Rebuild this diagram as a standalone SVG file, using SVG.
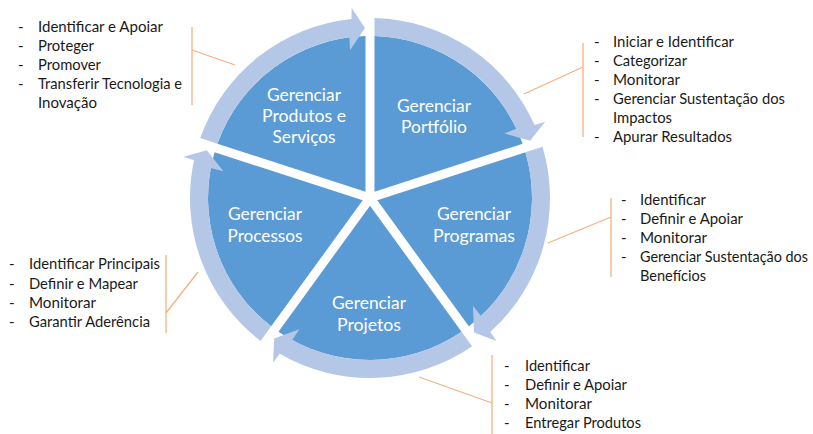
<svg xmlns="http://www.w3.org/2000/svg" width="813" height="434" viewBox="0 0 813 434">
  <style>
    .sector { fill: #5B9BD5; }
    .ring { fill: #B4C7E7; }
    .label { font-family: Lato, "Open Sans", "Liberation Sans", sans-serif; font-size: 17.5px; fill: #FFFFFF; text-anchor: middle; }
    .item { font-family: Lato, "Open Sans", "Liberation Sans", sans-serif; font-size: 15px; fill: #1A1A1A; }
    .callout { stroke: #F4B183; stroke-width: 1.3; fill: none; }
  </style>
  <rect x="0" y="0" width="813" height="434" fill="#FFFFFF"/>

  <g id="node-produtos-servicos">
    <path class="sector" d="M365.50,191.81 L217.38,143.68 A162,162 0 0 1 365.50,36.06 Z"/>
    <text class="label" x="304" y="101" textLength="74" lengthAdjust="spacingAndGlyphs">Gerenciar</text>
    <text class="label" x="304" y="122" textLength="84" lengthAdjust="spacingAndGlyphs">Produtos e</text>
    <text class="label" x="304" y="143" textLength="63" lengthAdjust="spacingAndGlyphs">Serviços</text>
  </g>
  <g id="node-portfolio">
    <path class="sector" d="M374.50,191.81 L374.50,36.06 A162,162 0 0 1 522.62,143.68 Z"/>
    <text class="label" x="434" y="112" textLength="74" lengthAdjust="spacingAndGlyphs">Gerenciar</text>
    <text class="label" x="434" y="133" textLength="66" lengthAdjust="spacingAndGlyphs">Portfólio</text>
  </g>
  <g id="node-programas">
    <path class="sector" d="M377.28,200.37 L525.41,152.24 A162,162 0 0 1 468.83,326.37 Z"/>
    <text class="label" x="474" y="220" textLength="74" lengthAdjust="spacingAndGlyphs">Gerenciar</text>
    <text class="label" x="474" y="242" textLength="82" lengthAdjust="spacingAndGlyphs">Programas</text>
  </g>
  <g id="node-projetos">
    <path class="sector" d="M370,205.66 L461.54,331.66 A162,162 0 0 1 278.46,331.66 Z"/>
    <text class="label" x="369" y="309" textLength="74" lengthAdjust="spacingAndGlyphs">Gerenciar</text>
    <text class="label" x="369" y="331" textLength="64" lengthAdjust="spacingAndGlyphs">Projetos</text>
  </g>
  <g id="node-processos">
    <path class="sector" d="M362.72,200.37 L271.17,326.37 A162,162 0 0 1 214.59,152.24 Z"/>
    <text class="label" x="265" y="220" textLength="74" lengthAdjust="spacingAndGlyphs">Gerenciar</text>
    <text class="label" x="265" y="242" textLength="75" lengthAdjust="spacingAndGlyphs">Processos</text>
  </g>

  <g id="list-produtos-servicos">
    <text class="item" x="18" y="32">-</text><text class="item" x="38" y="32" textLength="125" lengthAdjust="spacingAndGlyphs">Identificar e Apoiar</text>
    <text class="item" x="18" y="51">-</text><text class="item" x="38" y="51" textLength="56" lengthAdjust="spacingAndGlyphs">Proteger</text>
    <text class="item" x="18" y="70">-</text><text class="item" x="38" y="70" textLength="63" lengthAdjust="spacingAndGlyphs">Promover</text>
    <text class="item" x="18" y="89">-</text><text class="item" x="38" y="89" textLength="144" lengthAdjust="spacingAndGlyphs">Transferir Tecnologia e</text>
    <text class="item" x="38" y="108" textLength="59" lengthAdjust="spacingAndGlyphs">Inovação</text>
  </g>
  <g id="list-portfolio">
    <text class="item" x="594" y="47">-</text><text class="item" x="613" y="47" textLength="121" lengthAdjust="spacingAndGlyphs">Iniciar e Identificar</text>
    <text class="item" x="594" y="66">-</text><text class="item" x="613" y="66" textLength="74" lengthAdjust="spacingAndGlyphs">Categorizar</text>
    <text class="item" x="594" y="85">-</text><text class="item" x="613" y="85" textLength="67" lengthAdjust="spacingAndGlyphs">Monitorar</text>
    <text class="item" x="594" y="104">-</text><text class="item" x="613" y="104" textLength="172" lengthAdjust="spacingAndGlyphs">Gerenciar Sustentação dos</text>
    <text class="item" x="613" y="123" textLength="59" lengthAdjust="spacingAndGlyphs">Impactos</text>
    <text class="item" x="594" y="142">-</text><text class="item" x="613" y="142" textLength="119" lengthAdjust="spacingAndGlyphs">Apurar Resultados</text>
  </g>
  <g id="list-programas">
    <text class="item" x="621" y="205">-</text><text class="item" x="640" y="205" textLength="66" lengthAdjust="spacingAndGlyphs">Identificar</text>
    <text class="item" x="621" y="224">-</text><text class="item" x="640" y="224" textLength="103" lengthAdjust="spacingAndGlyphs">Definir e Apoiar</text>
    <text class="item" x="621" y="243">-</text><text class="item" x="640" y="243" textLength="67" lengthAdjust="spacingAndGlyphs">Monitorar</text>
    <text class="item" x="621" y="262">-</text><text class="item" x="640" y="262" textLength="168" lengthAdjust="spacingAndGlyphs">Gerenciar Sustentação dos</text>
    <text class="item" x="640" y="281" textLength="66" lengthAdjust="spacingAndGlyphs">Benefícios</text>
  </g>
  <g id="list-processos">
    <text class="item" x="9" y="269">-</text><text class="item" x="29" y="269" textLength="131" lengthAdjust="spacingAndGlyphs">Identificar Principais</text>
    <text class="item" x="9" y="289">-</text><text class="item" x="29" y="289" textLength="109" lengthAdjust="spacingAndGlyphs">Definir e Mapear</text>
    <text class="item" x="9" y="308">-</text><text class="item" x="29" y="308" textLength="67" lengthAdjust="spacingAndGlyphs">Monitorar</text>
    <text class="item" x="9" y="327">-</text><text class="item" x="29" y="327" textLength="121" lengthAdjust="spacingAndGlyphs">Garantir Aderência</text>
  </g>
  <g id="list-projetos">
    <text class="item" x="504" y="371">-</text><text class="item" x="525" y="371" textLength="65" lengthAdjust="spacingAndGlyphs">Identificar</text>
    <text class="item" x="504" y="390">-</text><text class="item" x="525" y="390" textLength="102" lengthAdjust="spacingAndGlyphs">Definir e Apoiar</text>
    <text class="item" x="504" y="409">-</text><text class="item" x="525" y="409" textLength="67" lengthAdjust="spacingAndGlyphs">Monitorar</text>
    <text class="item" x="504" y="428">-</text><text class="item" x="525" y="428" textLength="116" lengthAdjust="spacingAndGlyphs">Entregar Produtos</text>
  </g>

  <g id="connectors">
    <path class="ring" d="M200.25,138.11 A180,180 0 0 1 351.50,18.95 L351.69,7.88 L364.96,28.07 L350.04,50.34 L349.42,37.31 A162,162 0 0 0 217.38,143.68 Z"/>
    <path class="ring" d="M374.50,18.06 A180,180 0 0 1 534.57,125.07 L545.16,121.84 L530.05,140.69 L504.26,133.38 L516.46,128.77 A162,162 0 0 0 374.50,36.06 Z"/>
    <path class="ring" d="M542.53,146.67 A180,180 0 0 1 490.21,331.98 L496.56,341.05 L474.00,332.48 L472.94,305.72 L481.10,315.90 A162,162 0 0 0 525.41,152.24 Z"/>
    <path class="ring" d="M472.13,346.22 A180,180 0 0 1 279.73,353.73 L273.06,362.57 L274.20,338.44 L299.36,329.19 L292.20,340.10 A162,162 0 0 0 461.54,331.66 Z"/>
    <path class="ring" d="M260.59,340.94 A180,180 0 0 1 194.00,160.27 L183.53,156.66 L206.83,150.29 L223.40,171.36 L210.82,167.92 A162,162 0 0 0 271.17,326.37 Z"/>

    <path class="callout" d="M192,27 V105 M192,50 L235,65"/>
    <path class="callout" d="M583,43 V137 M583,67 L524,94"/>
    <path class="callout" d="M611,198 V277 M611,217 L548,243"/>
    <path class="callout" d="M166,255 V333 M166,313 L198,272"/>
    <path class="callout" d="M492,355 V434 M492,403 L419,377"/>
  </g>
</svg>
